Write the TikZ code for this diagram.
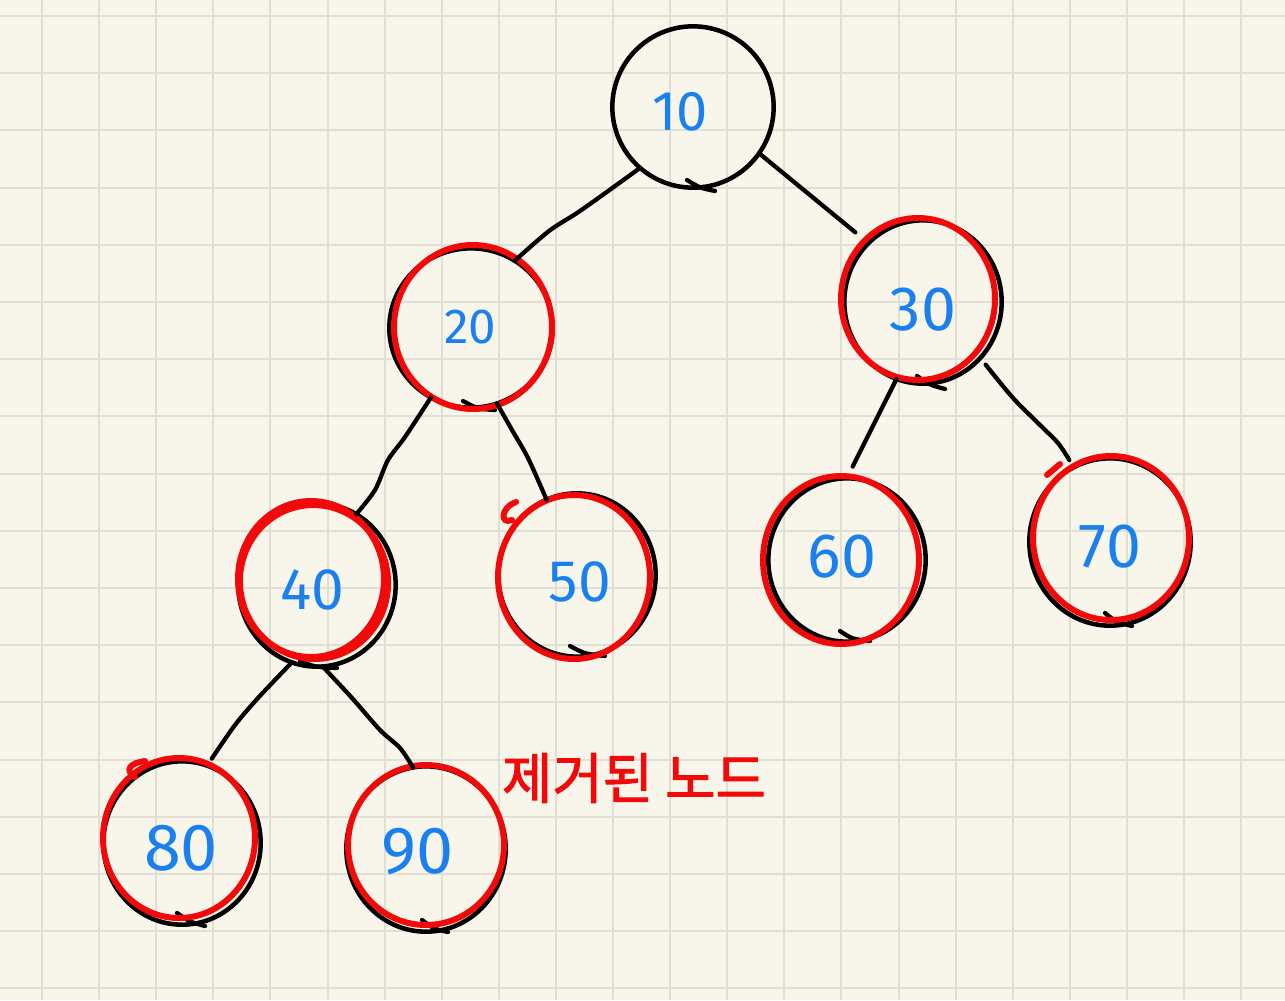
\documentclass[tikz,border=0pt]{standalone}
\usepackage{fontspec}
\setmainfont{Fira Sans}
\newfontfamily\krfont[FakeBold=2]{Noto Sans CJK KR}
\usetikzlibrary{shapes.geometric}
\definecolor{paper}{HTML}{F8F6EA}
\definecolor{gridln}{HTML}{E1DFD4}
\definecolor{inkblue}{HTML}{1A80F0}
\definecolor{inkred}{HTML}{F20A0A}
\tikzset{
  gridline/.style={gridln, line width=1.5pt},
  bcirc/.style={ellipse, draw=black, line width=3.4pt, inner sep=0pt, outer sep=0pt},
  rcirc/.style={draw=inkred, line width=4.5pt, line cap=round},
  num/.style={text=inkblue, inner sep=0pt},
  edge/.style={draw=black, line width=3.2pt, line cap=round, line join=round},
  tailstroke/.style={draw=black, line width=3.2pt, line cap=round},
}
\begin{document}
\begin{tikzpicture}[x=0.75pt,y=-0.75pt]
% paper and squared grid
\fill[paper] (0,0) rectangle (1285,1000);
\useasboundingbox (0,0) rectangle (1285,1000);
\foreach \k in {0,...,21} \draw[gridline] ({42+57.1*\k},0) -- ({42+57.1*\k},1000);
\foreach \k in {0,...,17} \draw[gridline] (0,{16+57.2*\k}) -- (1285,{16+57.2*\k});

% tree nodes (black outlines)
\node[bcirc, minimum width=121pt,   minimum height=121pt]   (n10) at (693,107) {};
\node[bcirc, minimum width=122.5pt, minimum height=119.5pt] (n20) at (471,328) {};
\node[bcirc, minimum width=118pt,   minimum height=122.5pt] (n30) at (923,302) {};
\node[bcirc, minimum width=118pt,   minimum height=122.5pt] (n40) at (317,585) {};
\node[bcirc, minimum width=118pt,   minimum height=122.5pt] (n50) at (577,575) {};
\node[bcirc, minimum width=118pt,   minimum height=122.5pt] (n60) at (847,560) {};
\node[bcirc, minimum width=121pt,   minimum height=125.5pt] (n70) at (1110,542) {};
\node[bcirc, minimum width=118pt,   minimum height=122.5pt] (n80) at (182,843) {};
\node[bcirc, minimum width=119.5pt, minimum height=124pt]   (n90) at (426,849) {};

% overlapping pen ends at the bottom of each outline
\draw[tailstroke] (687,180) .. controls (700,188) .. (715,191);
\draw[tailstroke] (463,401) .. controls (478,409) .. (495,410);
\draw[tailstroke] (917,376) .. controls (930,385) .. (945,389);
\draw[tailstroke] (300,661) .. controls (315,667) .. (337,668);
\draw[tailstroke] (570,646) .. controls (585,654) .. (605,656);
\draw[tailstroke] (840,631) .. controls (852,639) .. (870,641);
\draw[tailstroke] (1105,613) .. controls (1116,622) .. (1132,626);
\draw[tailstroke] (177,913) .. controls (190,922) .. (205,926);
\draw[tailstroke] (422,920) .. controls (434,929) .. (448,932);

% red marks around the removed nodes
\draw[rcirc] (473,327) ellipse [x radius=79, y radius=82];
\draw[rcirc] (918,299) ellipse [x radius=77, y radius=81];
\draw[rcirc] (311,579) ellipse [x radius=73, y radius=78];
\draw[rcirc, rotate around={8:(314,582)}] (314,582) ellipse [x radius=74, y radius=77];
\draw[rcirc] (574,577) ellipse [x radius=76, y radius=82];
\draw[rcirc] (841,560) ellipse [x radius=78, y radius=84];
\draw[rcirc] (1111,538) ellipse [x radius=78, y radius=82];
\draw[rcirc] (179,838) ellipse [x radius=76, y radius=80];
\draw[rcirc] (426,845) ellipse [x radius=78, y radius=80];
\draw[rcirc] (1047,475) -- (1060,464);
\draw[rcirc] (512,520) .. controls (500,525) and (500,508) .. (516,502);
\draw[rcirc] (135,777) .. controls (124,770) and (130,763) .. (145,761);

% connectors
\draw[edge] plot[smooth, tension=0.5] coordinates {(n10.229) (604,194) (577,213) (549,231) (n20.57)};
\draw[edge] (n10.325) -- ([shift={(-12,-12)}]n30.134);
\draw[edge] plot[smooth, tension=0.5] coordinates {(n20.240) (405,437) (388,460) (375,490) (n40.61)};
\draw[edge] plot[smooth, tension=0.5] coordinates {(n20.289) (512,430) (528,458) (n50.112)};
\draw[edge] (n30.251) -- ([shift={(0,-12)}]n60.86);
\draw[edge] plot[smooth, tension=0.5] coordinates {([shift={(6,6)}]n30.315) (1013,398) (1040,425) (1058,443) ([shift={(-3,-8)}]n70.117)};
\draw[edge] plot[smooth, tension=0.5] coordinates {(n40.252) (258,698) (235,725) ([shift={(2,-8)}]n80.70)};
\draw[edge] plot[smooth, tension=0.5] coordinates {(n40.274) (352,698) (380,730) (400,748) (n90.99)};

% key labels
\node[num, font=\fontsize{42}{42}\selectfont] (t10) at (680,112) {10};
\node[num, font=\fontsize{37}{37}\selectfont] (t20) at (470,327) {20};
\node[num, font=\fontsize{47}{47}\selectfont] (t30) at (923,310) {30};
\node[num, font=\fontsize{44}{44}\selectfont] (t40) at (312,590) {40};
\node[num, font=\fontsize{44}{44}\selectfont] (t50) at (580,582) {50};
\node[num, font=\fontsize{47}{47}\selectfont] (t60) at (842,557) {60};
\node[num, font=\fontsize{47}{47}\selectfont] (t70) at (1110,547) {70};
\node[num, font=\fontsize{50}{50}\selectfont] (t80) at (181,848) {80};
\node[num, font=\fontsize{50}{50}\selectfont] (t90) at (418,852) {90};

% annotation
\node[text=inkred, inner sep=0pt, font=\krfont\fontsize{41}{41}\selectfont] (note) at (634,778) {제거된 노드};
\end{tikzpicture}
\end{document}
